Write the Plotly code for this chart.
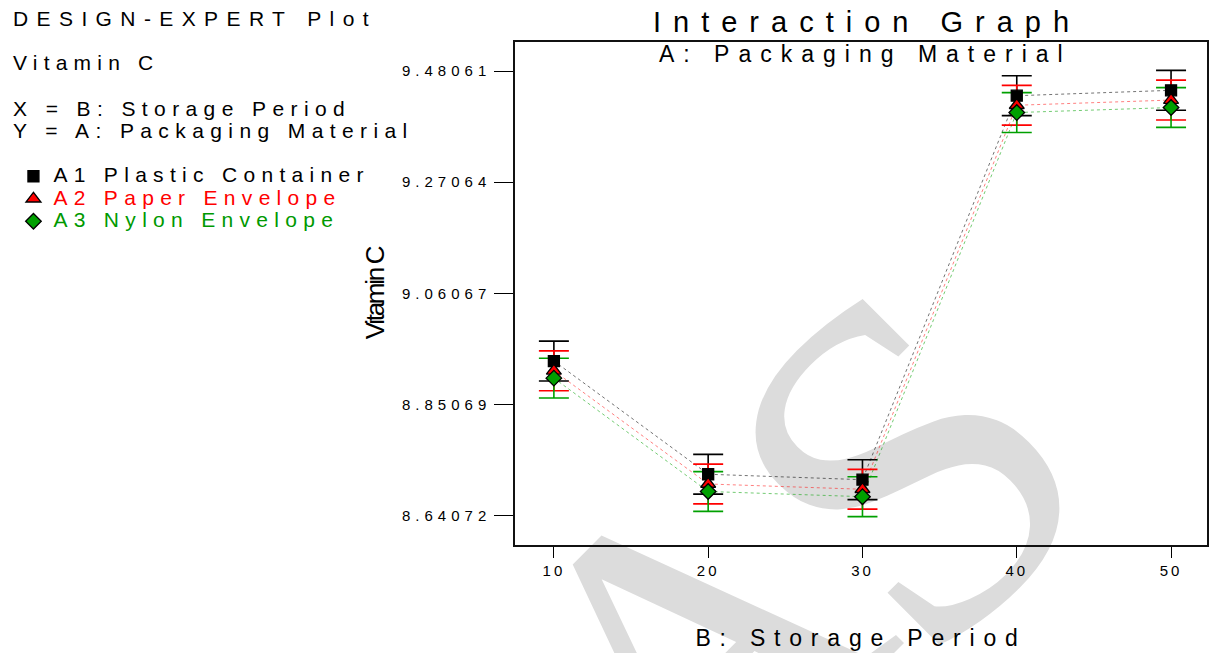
import base64
import plotly.graph_objects as go

# ---------------- data ----------------
storage_period = [10, 20, 30, 40, 50]
a1_plastic_container = [8.9326, 8.7187, 8.7084, 9.4339, 9.4441]
a2_paper_envelope = [8.9141, 8.7003, 8.6903, 9.4159, 9.4257]
a3_nylon_envelope = [8.9003, 8.6861, 8.6763, 9.4021, 9.4116]
a1_error = [0.0376, 0.0376, 0.0376, 0.0376, 0.0376]
a2_error = [0.0376, 0.0376, 0.0376, 0.0376, 0.0376]
a3_error = [0.0376, 0.0376, 0.0376, 0.0376, 0.0376]
series_names = ["A1 Plastic Container", "A2 Paper Envelope", "A3 Nylon Envelope"]
y_tick_values = [8.64072, 8.85069, 9.06067, 9.27064, 9.48061]
y_tick_labels = ["8.64072", "8.85069", "9.06067", "9.27064", "9.48061"]
x_tick_values = [10, 20, 30, 40, 50]
x_tick_labels = ["10", "20", "30", "40", "50"]

FONT = "Arial, Liberation Sans, sans-serif"


def spaced(text, px, color=None, size=None):
    style = f"letter-spacing:{px}px"
    if color:
        style += f";color:{color}"
    if size:
        style += f";font-size:{size}px"
    return f'<span style="{style}">{text}</span>'


# plot-area geometry (pixels)
W, H = 1212, 653
ML, MR, MT, MB = 515, 3, 42, 108
PW, PH = W - ML - MR, H - MT - MB


def px_x(px):
    return (px - ML) / PW


def px_y(py):
    return (MT + PH - py) / PH


series = [
    (a1_plastic_container, a1_error, "#000000", "rgba(0,0,0,0.55)", "square", 11, "#000000"),
    (a2_paper_envelope, a2_error, "#ff0000", "rgba(255,0,0,0.5)", "triangle-up", 13, "#ff0000"),
    (a3_nylon_envelope, a3_error, "#00a000", "rgba(0,160,0,0.55)", "diamond", 12, "#009900"),
]

fig = go.Figure()

# dotted connecting lines + error bars (drawn first, under all markers)
for (vals, err, col, lcol, sym, size, tcol), name in zip(series, series_names):
    fig.add_trace(go.Scatter(
        x=storage_period, y=vals, mode="lines", name=name, showlegend=False,
        line=dict(color=lcol, width=1, dash="dot"),
        error_y=dict(type="data", array=err, color=col, thickness=1.6, width=15),
        hoverinfo="skip",
    ))

# markers
for (vals, err, col, lcol, sym, size, tcol), name in zip(series, series_names):
    fig.add_trace(go.Scatter(
        x=storage_period, y=vals, mode="markers",
        name=spaced(name, 6.3, color=tcol, size=21),
        marker=dict(symbol=sym, size=size, color=col,
                    line=dict(color="#000000", width=1.3)),
    ))

# watermark (decoration, drawn below everything)
wm_svg = (
    '<svg xmlns="http://www.w3.org/2000/svg" width="1212" height="653" '
    'viewBox="0 0 1212 653" preserveAspectRatio="none">'
    '<g fill="#dcdcdc" font-family="Liberation Serif, Times New Roman, serif">'
    '<g transform="translate(908,468) rotate(-45)"><text x="0" y="160" font-size="485" text-anchor="middle">S</text></g>'
    '<g transform="translate(590,548) rotate(-45)"><text x="0" y="290" font-size="440" text-anchor="middle">A</text></g>'
    '</g></svg>'
)
wm_uri = "data:image/svg+xml;base64," + base64.b64encode(wm_svg.encode()).decode()

annotations = [
    dict(text=spaced("DESIGN-EXPERT Plot", 8.4), x=px_x(10), y=px_y(18), size=21),
    dict(text=spaced("Vitamin C", 6.2), x=px_x(10), y=px_y(63), size=21),
    dict(text=spaced("X = B: Storage Period", 6.4), x=px_x(10), y=px_y(108), size=21),
    dict(text=spaced("Y = A: Packaging Material", 6.4), x=px_x(10), y=px_y(130), size=21),
]
ann_list = []
for a in annotations:
    ann_list.append(dict(
        text=a["text"], x=a["x"], y=a["y"], xref="paper", yref="paper",
        xanchor="left", yanchor="middle", showarrow=False,
        font=dict(family=FONT, size=a["size"], color="#000000"),
    ))
ann_list.append(dict(
    text=spaced("Interaction Graph", 12), x=0.5, y=px_y(22), xref="paper", yref="paper",
    xanchor="center", yanchor="middle", showarrow=False, xshift=6,
    font=dict(family=FONT, size=29, color="#000000"),
))
ann_list.append(dict(
    text=spaced("A: Packaging Material", 9), x=0.5, y=px_y(54), xref="paper", yref="paper",
    xanchor="center", yanchor="middle", showarrow=False, xshift=4,
    font=dict(family=FONT, size=23, color="#000000"),
))

fig.update_layout(
    width=W, height=H,
    margin=dict(l=ML, r=MR, t=MT, b=MB, pad=0),
    paper_bgcolor="#ffffff",
    plot_bgcolor="rgba(0,0,0,0)",
    font=dict(family=FONT, size=15, color="#000000"),
    showlegend=True,
    legend=dict(
        x=px_x(12), y=px_y(160), xanchor="left", yanchor="top",
        bgcolor="rgba(0,0,0,0)", font=dict(family=FONT, size=15),
        tracegroupgap=0, itemclick=False, itemdoubleclick=False,
    ),
    annotations=ann_list,
    images=[dict(
        source=wm_uri, xref="paper", yref="paper",
        x=px_x(0), y=px_y(0), sizex=W / PW, sizey=H / PH,
        xanchor="left", yanchor="top", sizing="stretch", layer="below",
    )],
    xaxis=dict(
        range=[7.48, 52.33], tickvals=x_tick_values,
        ticktext=[spaced(t, 3) for t in x_tick_labels],
        ticks="outside", ticklen=11, tickwidth=1.2, tickcolor="#000000",
        showline=True, linecolor="#111111", linewidth=1.5, mirror=True,
        showgrid=False, zeroline=False,
        tickfont=dict(family=FONT, size=15, color="#000000"),
        title=dict(text=spaced("B: Storage Period", 8.8), standoff=52,
                   font=dict(family=FONT, size=23, color="#000000")),
    ),
    yaxis=dict(
        range=[8.585, 9.5354], tickvals=y_tick_values,
        ticktext=[spaced(t, 5) for t in y_tick_labels],
        ticks="outside", ticklen=19, tickwidth=1.2, tickcolor="#000000",
        showline=True, linecolor="#111111", linewidth=1.5, mirror=True,
        showgrid=False, zeroline=False,
        tickfont=dict(family=FONT, size=15, color="#000000"),
        title=dict(text=spaced("Vitamin C", -2.3), standoff=10,
                   font=dict(family=FONT, size=26, color="#000000")),
    ),
)

fig.write_html("out.html")
